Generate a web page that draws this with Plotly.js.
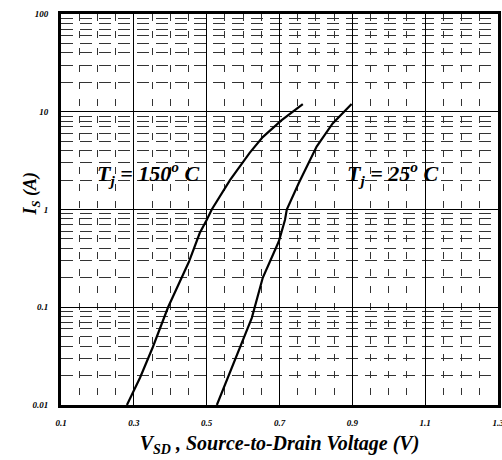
<!DOCTYPE html>
<html><head><meta charset="utf-8">
<script src="https://cdn.plot.ly/plotly-3.0.1.min.js"></script>
<style>html,body{margin:0;padding:0;background:#fff}#chart{width:502px;height:460px}</style>
</head><body><div id="chart"></div>
<script>
// Tj = 150 C curve
const v150 = [0.281, 0.317, 0.352, 0.394, 0.451, 0.481, 0.50, 0.514, 0.564, 0.618, 0.654, 0.706, 0.764];
const i150 = [0.01, 0.019, 0.039, 0.1, 0.29, 0.575, 0.78, 1.0, 2.0, 3.8, 5.5, 8.2, 12];
// Tj = 25 C curve
const v25 = [0.528, 0.624, 0.654, 0.698, 0.715, 0.72, 0.753, 0.783, 0.802, 0.846, 0.898];
const i25 = [0.01, 0.078, 0.2, 0.47, 0.78, 1.0, 1.87, 3.2, 4.4, 7.6, 12];
const xTicks = [0.1, 0.3, 0.5, 0.7, 0.9, 1.1, 1.3];
const xTickText = ['0.1', '0.3', '0.5', '0.7', '0.9', '1.1', '1.3'];
const yTicks = [0.01, 0.1, 1, 10, 100];
const yTickText = ['0.01', '0.1', '1', '10', '100'];

const serif = 'Liberation Serif, Times New Roman, serif';
const tickFont = {family: serif, size: 9, color: '#000', weight: 'bold', style: 'italic'};
const lineStyle = {color: '#000', width: 2.2};
const bigFont = {family: serif, size: 22, color: '#000', weight: 'bold', style: 'italic'};

const data = [
  {x: v150, y: i150, mode: 'lines', line: lineStyle, showlegend: false, hoverinfo: 'skip'},
  {x: v25, y: i25, mode: 'lines', line: lineStyle, showlegend: false, hoverinfo: 'skip'}
];

const layout = {
  width: 502, height: 460,
  margin: {l: 61, r: 4, t: 14, b: 55},
  paper_bgcolor: '#fff', plot_bgcolor: '#fff',
  showlegend: false,
  xaxis: {
    range: [0.1, 1.3], tickvals: xTicks, ticktext: xTickText,
    showgrid: true, gridcolor: '#000', gridwidth: 1,
    minor: {dtick: 0.05, showgrid: true, gridcolor: '#333', gridwidth: 1, griddash: '7px,10px', ticks: ''},
    zeroline: false, showline: true, linecolor: '#000', linewidth: 3, mirror: true,
    ticks: '', tickfont: tickFont, ticklabelstandoff: 7, ticklabeloverflow: 'allow',
    title: {text: 'V<sub>SD</sub> , Source-to-Drain Voltage (V)', standoff: 10,
      font: {family: serif, size: 20, color: '#000', weight: 'bold', style: 'italic'}}
  },
  yaxis: {
    type: 'log', range: [-2, 2], tickvals: yTicks, ticktext: yTickText,
    showgrid: true, gridcolor: '#000', gridwidth: 1,
    minor: {dtick: 'D1', showgrid: true, gridcolor: '#333', gridwidth: 1, griddash: '12px,7px', ticks: ''},
    zeroline: false, showline: true, linecolor: '#000', linewidth: 3, mirror: true,
    ticks: '', tickfont: tickFont, ticklabelstandoff: 8, ticklabeloverflow: 'allow'
  },
  annotations: [
    {x: -0.098, y: 0.54, xref: 'paper', yref: 'paper', showarrow: false, textangle: -90,
     text: 'I<sub>S</sub> (A)',
     font: {family: serif, size: 18, color: '#000', weight: 'bold', style: 'italic'}},
    {x: 0.339, y: Math.log10(2.36), xref: 'x', yref: 'y', showarrow: false,
     text: 'T<sub>j</sub> = 150<sup>o</sup> C', font: bigFont},
    {x: 1.011, y: Math.log10(2.36), xref: 'x', yref: 'y', showarrow: false,
     text: 'T<sub>j</sub> = 25<sup>o</sup> C', font: bigFont}
  ]
};

Plotly.newPlot('chart', data, layout, {staticPlot: true, displayModeBar: false});
</script>
</body></html>
